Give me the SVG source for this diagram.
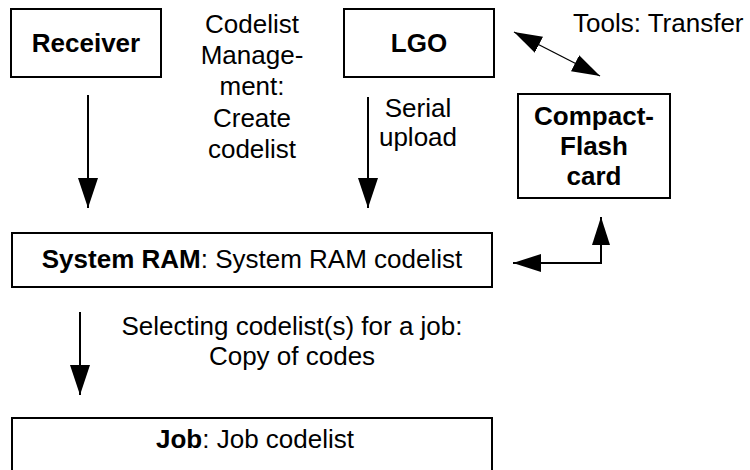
<svg xmlns="http://www.w3.org/2000/svg" width="750" height="470" viewBox="0 0 750 470">
<style>
.box{fill:#fff;stroke:#000;stroke-width:2}
.t{font-family:"Liberation Sans",Arial,sans-serif;font-size:26px;fill:#000;text-anchor:middle}
.b{font-weight:bold}
.ln{stroke:#000;stroke-width:2;fill:none}
.thin{stroke:#000;stroke-width:1.3;fill:none}
</style>
<defs>
<marker id="ah" viewBox="0 0 30 20" refX="30" refY="10" markerWidth="30" markerHeight="20" markerUnits="userSpaceOnUse" orient="auto-start-reverse">
<path d="M0,0 L30,10 L0,20 Z" fill="#000"/>
</marker>
<marker id="ah2" viewBox="0 0 28 18" refX="28" refY="9" markerWidth="28" markerHeight="18" markerUnits="userSpaceOnUse" orient="auto-start-reverse">
<path d="M0,0 L28,9 L0,18 Z" fill="#000"/>
</marker>
</defs>
<rect width="750" height="470" fill="#fff"/>
<g id="receiver"><rect class="box" x="11" y="9" width="150" height="68"/><text class="t b" x="86" y="52">Receiver</text></g>
<g id="lgo"><rect class="box" x="344" y="9" width="150" height="68"/><text class="t b" x="419" y="52">LGO</text></g>
<g id="cf"><rect class="box" x="518" y="94" width="152" height="104"/>
<text class="t b" x="594" y="125">Compact-</text><text class="t b" x="594" y="155">Flash</text><text class="t b" x="594" y="185">card</text></g>
<g id="sysram"><rect class="box" x="12" y="233" width="480" height="54"/><text class="t" x="252" y="268"><tspan class="b">System RAM</tspan>: System RAM codelist</text></g>
<g id="job"><rect class="box" x="12" y="418" width="480" height="60"/><text class="t" x="255" y="448"><tspan class="b">Job</tspan>: Job codelist</text></g>
<g id="labels">
<text class="t" x="252" y="33">Codelist</text>
<text class="t" x="252" y="64">Manage-</text>
<text class="t" x="252" y="95">ment:</text>
<text class="t" x="252" y="127">Create</text>
<text class="t" x="252" y="158">codelist</text>
<text class="t" x="418" y="117">Serial</text>
<text class="t" x="418" y="146">upload</text>
<text class="t" x="573" y="32" style="text-anchor:start">Tools: Transfer</text>
<text class="t" x="292" y="335">Selecting codelist(s) for a job:</text>
<text class="t" x="292" y="365">Copy of codes</text>
</g>
<g id="connectors">
<line class="ln" x1="88" y1="95" x2="88" y2="208" marker-end="url(#ah)"/>
<line class="ln" x1="368" y1="97" x2="368" y2="208" marker-end="url(#ah)"/>
<line class="ln" x1="80" y1="312" x2="80" y2="395" marker-end="url(#ah)"/>
<line class="thin" x1="514" y1="32" x2="600" y2="76" marker-start="url(#ah2)" marker-end="url(#ah2)"/>
<polyline class="ln" points="601,217 601,263 513,263" marker-start="url(#ah2)" marker-end="url(#ah2)"/>
</g>
</svg>
